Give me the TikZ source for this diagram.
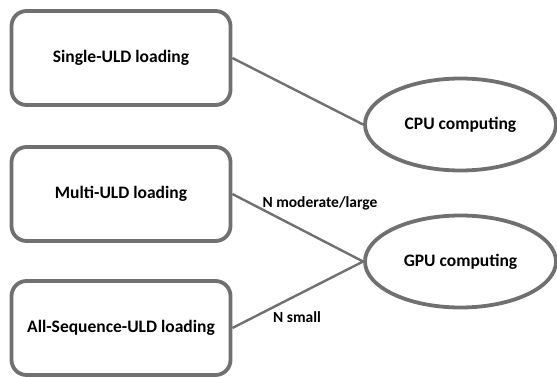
\documentclass[tikz,border=0pt]{standalone}
\usepackage{fontspec}
\setmainfont{Carlito}
\usetikzlibrary{shapes.geometric}
\definecolor{edgegray}{RGB}{112,112,112}
\begin{document}
\begin{tikzpicture}[x=1pt,y=-1pt,
  box/.style={draw=edgegray,line width=3.8pt,rounded corners=15pt,minimum width=219pt,minimum height=94pt,font=\bfseries\fontsize{17.5}{20}\selectfont,inner sep=0pt},
  oval/.style={draw=edgegray,line width=3.8pt,ellipse,minimum width=191pt,minimum height=92pt,font=\bfseries\fontsize{17.5}{20}\selectfont,inner sep=0pt},
  link/.style={draw=edgegray,line width=2.4pt},
  lab/.style={font=\bfseries\fontsize{15.5}{18}\selectfont,inner sep=0pt}]
\useasboundingbox (0,0) rectangle (557,377);
\node[box] (s) at (121,58) {Single-ULD loading};
\node[box] (m) at (121,194) {Multi-ULD loading};
\node[box] (a) at (121,328) {All-Sequence-ULD loading};
\node[oval] (c) at (460.5,124.5) {CPU computing};
\node[oval] (g) at (460.5,261.5) {GPU computing};
\draw[link] (s.east) -- (c.west);
\draw[link] (m.east) -- (g.west);
\draw[link] (a.east) -- (g.west);
\node[lab] (nl) at (320,203) {N moderate/large};
\node[lab] (ns) at (297,317) {N small};
\end{tikzpicture}
\end{document}
